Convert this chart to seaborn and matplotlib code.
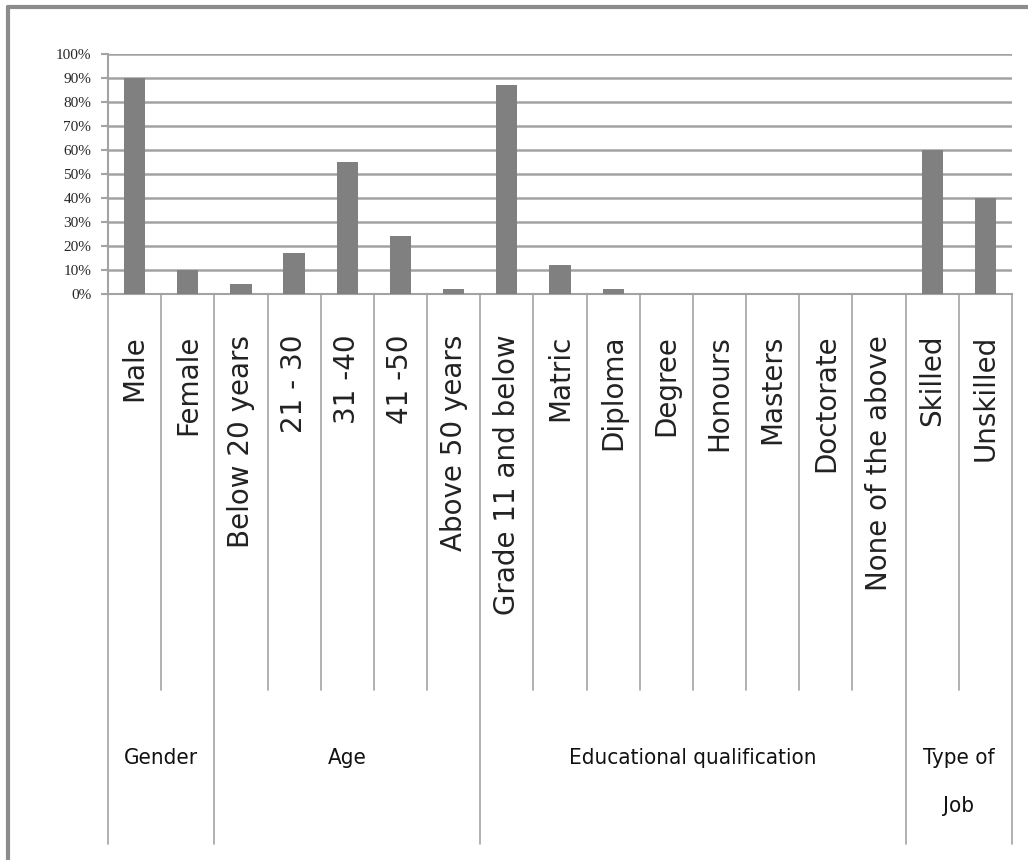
import pandas as pd
import matplotlib.pyplot as plt
import seaborn as sns
from matplotlib.lines import Line2D

# categories and values (percent of respondents)
categories = [
    "Male", "Female",
    "Below 20 years", "21 - 30", "31 -40", "41 -50", "Above 50 years",
    "Grade 11 and below", "Matric", "Diploma", "Degree", "Honours",
    "Masters", "Doctorate", "None of the above",
    "Skilled", "Unskilled",
]
percentages = [90, 10, 4, 17, 55, 24, 2, 87, 12, 2, 0, 0, 0, 0, 0, 60, 40]
groups = ["Gender", "Age", "Educational qualification", "Type of\nJob"]
group_sizes = [2, 5, 8, 2]
y_ticks = [0, 10, 20, 30, 40, 50, 60, 70, 80, 90, 100]

GRID = "#a3a3a3"
BAR = "#808080"


def build_frame():
    return pd.DataFrame({"Category": categories, "Percent": percentages})


def draw_chart(df):
    sns.set_style("white")
    fig = plt.figure(figsize=(10.28, 8.6), dpi=100)
    ax = fig.add_axes([108 / 1028, 1 - 294 / 860, 904 / 1028, 240 / 860])

    sns.barplot(data=df, x="Category", y="Percent", order=categories,
                color=BAR, width=0.4, saturation=1, linewidth=0, ax=ax,
                zorder=3)

    ax.set_xlim(-0.5, len(categories) - 0.5)
    ax.set_ylim(0, 100)
    ax.set_yticks(y_ticks)
    ax.set_yticklabels([f"{t}%" for t in y_ticks],
                       family="Liberation Serif", fontsize=11)
    ax.tick_params(axis="y", length=5, width=1.5, color=GRID, pad=7, left=True)
    ax.set_xticks([])
    ax.set_xlabel("")
    ax.set_ylabel("")
    ax.yaxis.grid(True, color=GRID, linewidth=1.8)
    ax.set_axisbelow(True)

    for side in ["top", "right"]:
        ax.spines[side].set_visible(False)
    for side in ["left", "bottom"]:
        ax.spines[side].set_color(GRID)
        ax.spines[side].set_linewidth(1.5)

    # category labels and separators below the axis
    trans = ax.get_xaxis_transform()
    for i, name in enumerate(categories):
        ax.text(i, -0.17, name, rotation=90, ha="center", va="top",
                fontsize=20, family="DejaVu Sans", color="#222222",
                transform=trans)

    bounds = [0]
    for n in group_sizes:
        bounds.append(bounds[-1] + n)
    for b in range(len(categories) + 1):
        depth = -2.29 if b in bounds else -1.65
        ax.plot([b - 0.5, b - 0.5], [0, depth], color=GRID, linewidth=1.2,
                transform=trans, clip_on=False)

    for g, name in enumerate(groups):
        mid = (bounds[g] + bounds[g + 1]) / 2 - 0.5
        ax.text(mid, -1.89, name, ha="center", va="top", fontsize=16,
                family="DejaVu Sans", fontstretch="condensed",
                linespacing=2.8, color="#111111", transform=trans)

    # outer frame (top and left edges visible)
    fig.add_artist(Line2D([8 / 1028, 8 / 1028], [0, 1 - 7 / 860],
                          color="#8c8c8c", linewidth=3))
    fig.add_artist(Line2D([8 / 1028, 1], [1 - 7 / 860, 1 - 7 / 860],
                          color="#8c8c8c", linewidth=3))

    fig.savefig("out.png", dpi=100)


if __name__ == "__main__":
    draw_chart(build_frame())
